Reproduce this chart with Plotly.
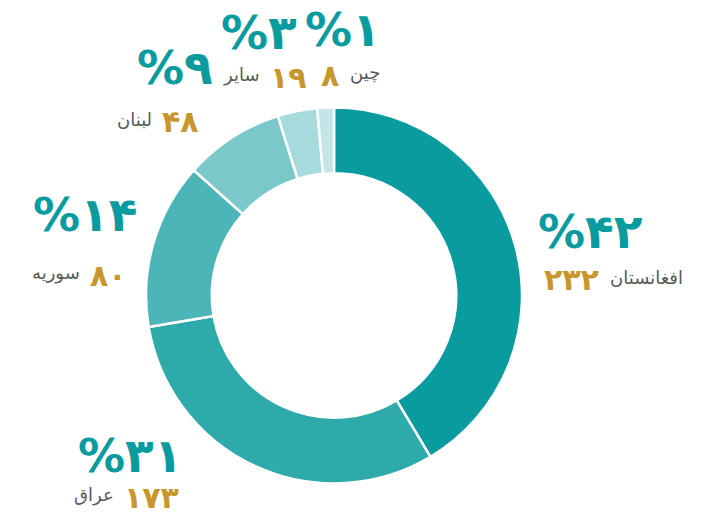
import plotly.graph_objects as go

# Country breakdown
countries = ["افغانستان", "عراق", "سوریه", "لبنان", "سایر", "چین"]
counts = [232, 173, 80, 48, 19, 8]
percents = [42, 31, 14, 9, 3, 1]
colors = ["#0a9b9e", "#2eaaab", "#4bb5b7", "#7bc8ca", "#a6dadd", "#c3e5e7"]

W, H = 710, 518
TEAL = "#0a9b9e"
GOLD = "#c9962e"
GRAY = "#5a5a5a"

# Label layout (pixels): percent centre x/y, row y, split x, and whether
# the number sits left of the name (right-hand labels) or right of it.
label_pos = [
    (590, 231, 279, 604, True),
    (130, 455, 497, 119, False),
    (85, 215, 275, 85, False),
    (175, 68, 122, 157, False),
    (259, 33, 77, 265, False),
    (343, 30, 75, 344, True),
]

fa_digits = str.maketrans("0123456789", "۰۱۲۳۴۵۶۷۸۹")


def fa(n):
    return str(n).translate(fa_digits)


def px(x):
    return x / W


def py(y):
    return 1 - y / H


cx, cy, r = 334, 295.5, 188

fig = go.Figure(
    go.Pie(
        labels=countries,
        values=counts,
        hole=0.65,
        sort=False,
        direction="clockwise",
        rotation=0,
        marker=dict(colors=colors, line=dict(color="white", width=2.5)),
        textinfo="none",
        hoverinfo="label+value+percent",
        domain=dict(x=[px(cx - r), px(cx + r)], y=[py(cy + r), py(cy - r)]),
        showlegend=False,
    )
)

annotations = []
for name, cnt, pct, (xp, yp, yr, xs, num_left) in zip(countries, counts, percents, label_pos):
    annotations.append(dict(
        x=px(xp), y=py(yp), xref="paper", yref="paper",
        text="<b>%" + fa(pct) + "</b>", showarrow=False,
        xanchor="center", yanchor="middle",
        font=dict(family="DejaVu Sans", size=47, color=TEAL),
    ))
    annotations.append(dict(
        x=px(xs - 3 if num_left else xs + 3), y=py(yr), xref="paper", yref="paper",
        text="<b>" + fa(cnt) + "</b>", showarrow=False,
        xanchor="right" if num_left else "left", yanchor="middle",
        font=dict(family="DejaVu Sans", size=30, color=GOLD),
    ))
    annotations.append(dict(
        x=px(xs + 4 if num_left else xs - 3), y=py(yr - 2), xref="paper", yref="paper",
        text=name, showarrow=False,
        xanchor="left" if num_left else "right", yanchor="middle",
        font=dict(family="DejaVu Sans", size=18, color=GRAY),
    ))

fig.update_layout(
    width=W, height=H,
    margin=dict(l=0, r=0, t=0, b=0),
    paper_bgcolor="white", plot_bgcolor="white",
    annotations=annotations,
)

fig.write_html("out.html")
